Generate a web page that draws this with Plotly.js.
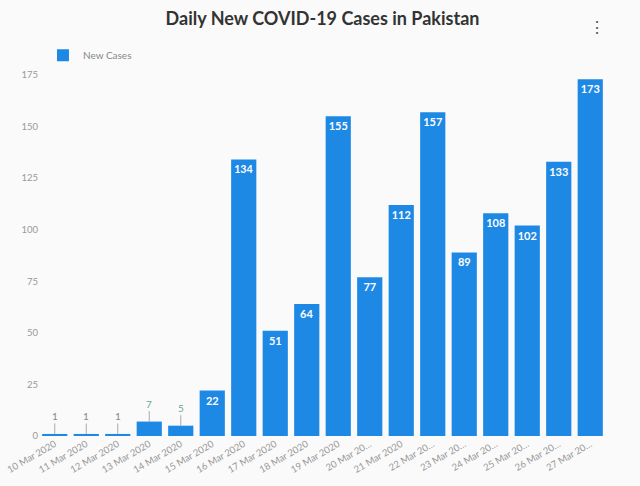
<!DOCTYPE html>
<html>
<head>
<meta charset="utf-8">
<script src="https://cdn.plot.ly/plotly-3.0.1.min.js"></script>
<style>html,body{margin:0;padding:0;background:#fafafa;}#chart{width:640px;height:486px;}</style>
</head>
<body>
<div id="chart"></div>
<script>
const dates = ["10 Mar 2020","11 Mar 2020","12 Mar 2020","13 Mar 2020","14 Mar 2020","15 Mar 2020","16 Mar 2020","17 Mar 2020","18 Mar 2020","19 Mar 2020","20 Mar 2020","21 Mar 2020","22 Mar 2020","23 Mar 2020","24 Mar 2020","25 Mar 2020","26 Mar 2020","27 Mar 2020"];
const tickLabels = ["10 Mar 2020","11 Mar 2020","12 Mar 2020","13 Mar 2020","14 Mar 2020","15 Mar 2020","16 Mar 2020","17 Mar 2020","18 Mar 2020","19 Mar 2020","20 Mar 20…","21 Mar 2020","22 Mar 20…","23 Mar 20…","24 Mar 20…","25 Mar 20…","26 Mar 20…","27 Mar 20…"];
const newCases = [1,1,1,7,5,22,134,51,64,155,77,112,157,89,108,102,133,173];
const yTicks = [0,25,50,75,100,125,150,175];

const insideText = newCases.map(v => v >= 20 ? String(v) : "");
const smallAnn = [];
newCases.forEach((v, i) => {
  if (v < 20) {
    smallAnn.push({
      x: dates[i], y: v, xref: "x", yref: "y",
      text: String(v), showarrow: true, arrowhead: 0, arrowwidth: 1,
      arrowcolor: "#aaa", ax: 0, ay: -18,
      font: {size: 10, color: v === 1 ? "#888" : "#6aa58f", family: "Lato, sans-serif"}
    });
  }
});

const trace = {
  type: "bar", x: dates, y: newCases, name: "New Cases",
  marker: {color: "#1e88e5"},
  text: insideText, textposition: "inside", insidetextanchor: "end",
  textangle: 0,
  insidetextfont: {color: "#ffffff", size: 11, family: "Lato, sans-serif", weight: "bold"},
  hoverinfo: "x+y"
};

const layout = {
  width: 640, height: 486,
  paper_bgcolor: "#fafafa", plot_bgcolor: "#fafafa",
  margin: {l: 39, r: 34, t: 75, b: 50},
  font: {family: "Lato, sans-serif", color: "#999"},
  title: {text: "Daily New COVID-19 Cases in Pakistan", x: 0.5, xref: "paper", xanchor: "center",
          y: 1 - 19/486, yref: "container", yanchor: "middle",
          font: {size: 18, color: "#333", family: "Lato, sans-serif", weight: "bold"}},
  bargap: 0.2,
  showlegend: true,
  legend: {x: 0.007, y: 1.055, xanchor: "left", yanchor: "middle", orientation: "h",
           font: {size: 10, color: "#888"}, bgcolor: "rgba(0,0,0,0)"},
  xaxis: {type: "category", tickvals: dates, ticktext: tickLabels, tickangle: -30,
          tickfont: {size: 9.5, color: "#999"}, showgrid: false, zeroline: false,
          showline: false, ticks: "", automargin: false},
  yaxis: {range: [0, 175], tickvals: yTicks, showgrid: false, zeroline: false,
          showline: false, ticks: "", tickfont: {size: 9.5, color: "#999"}, automargin: false},
  annotations: smallAnn.concat([{
    xref: "paper", yref: "paper", x: (607-39)/567, y: (436-15)/361, text: "⋮",
    showarrow: false, font: {size: 16, color: "#555"}
  }])
};

Plotly.newPlot("chart", [trace], layout, {displayModeBar: false, staticPlot: true});
</script>
</body>
</html>
